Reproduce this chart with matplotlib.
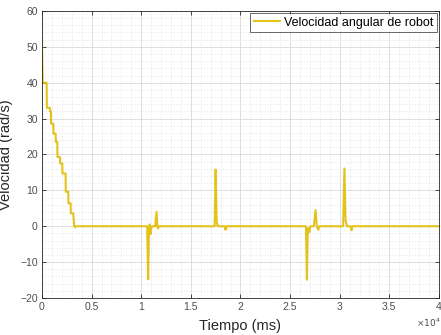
import matplotlib.pyplot as plt
from matplotlib.ticker import MultipleLocator

# time in ms, angular velocity in rad/s
tiempo = [0, 30, 80, 470, 490, 800, 820, 900, 920, 1140, 1160, 1375, 1395, 1540, 1560,
          1810, 1830, 2045, 2065, 2380, 2400, 2650, 2670, 2885, 2905, 3150, 3250, 3350, 3450,
          10600, 10700, 10780, 10850, 10950, 11020, 11100, 11150, 11400, 11550, 11620, 11700,
          11800, 17400, 17500, 17600, 17700, 18400, 18500, 18600,
          26600, 26700, 26780, 26850, 26950, 27000, 27100, 27400, 27570, 27700, 27850, 27950, 28100,
          30350, 30480, 30600, 30750, 31100, 31200, 31300, 40500]
velocidad = [52, 46, 40, 40, 33, 33, 32, 32, 28.6, 28.6, 25.8, 25.8, 23.5, 23.5, 19.3,
             19.3, 17.5, 17.5, 14.7, 14.7, 9.6, 9.6, 6.4, 6.4, 3.6, 3.6, 0, -0.3, 0,
             0, -14.8, -1.5, 0.5, -2.2, -0.5, 0, 0, 0, 4.0, 0, -0.6,
             0, 0, 15.8, 1.5, 0, 0, -1.0, 0,
             0, -14.9, -2, -0.5, -1.6, -0.4, 0, 0, 4.5, 0, -1.0, 0, 0,
             0, 16.1, 1.5, 0, 0, -1.1, 0, 0]

xticks = [0, 5000, 10000, 15000, 20000, 25000, 30000, 35000, 40000]
xtick_labels = ['0', '0.5', '1', '1.5', '2', '2.5', '3', '3.5', '4']
yticks = [-20, -10, 0, 10, 20, 30, 40, 50, 60]

plt.rcParams['font.family'] = ['Liberation Sans', 'DejaVu Sans']

fig = plt.figure(figsize=(4.41, 3.35), dpi=100)
ax = fig.add_axes([0.0952, 0.1104, 0.9, 0.857])

ax.plot(tiempo, velocidad, color='#E3C21C', linewidth=1.5, label='Velocidad angular de robot')

ax.set_xlim(0, 40000)
ax.set_ylim(-20, 60)
ax.set_xticks(xticks)
ax.set_xticklabels(xtick_labels)
ax.set_yticks(yticks)
ax.xaxis.set_minor_locator(MultipleLocator(1000))
ax.yaxis.set_minor_locator(MultipleLocator(2))

ax.grid(True, which='major', color='#D9D9D9', linewidth=0.6)
ax.grid(True, which='minor', color='#E3E3E3', linewidth=0.5, linestyle=(0, (2, 2)))
ax.set_axisbelow(True)

ax.tick_params(which='major', direction='in', length=3, width=0.6, top=True, right=True,
               labelsize=7.5, colors='#262626', labelcolor='#4D4D4D', pad=3)
ax.tick_params(which='minor', length=0)
for s in ax.spines.values():
    s.set_color('#262626')
    s.set_linewidth(0.6)

ax.set_xlabel('Tiempo (ms)', fontsize=10.5, color='#262626', labelpad=5)
ax.set_ylabel('Velocidad (rad/s)', fontsize=10.5, color='#262626', labelpad=5)
fig.text(0.999, 0.035, r'$\times10^4$', fontsize=6.5,
         color='#4D4D4D', ha='right', va='center')

leg = ax.legend(loc='upper right', fontsize=9, frameon=True, fancybox=False,
                borderpad=0.3, handlelength=2.1, handletextpad=0.3, borderaxespad=0.15)
leg.get_frame().set_edgecolor('#262626')
leg.get_frame().set_linewidth(0.6)

fig.savefig('out.png', dpi=100)
